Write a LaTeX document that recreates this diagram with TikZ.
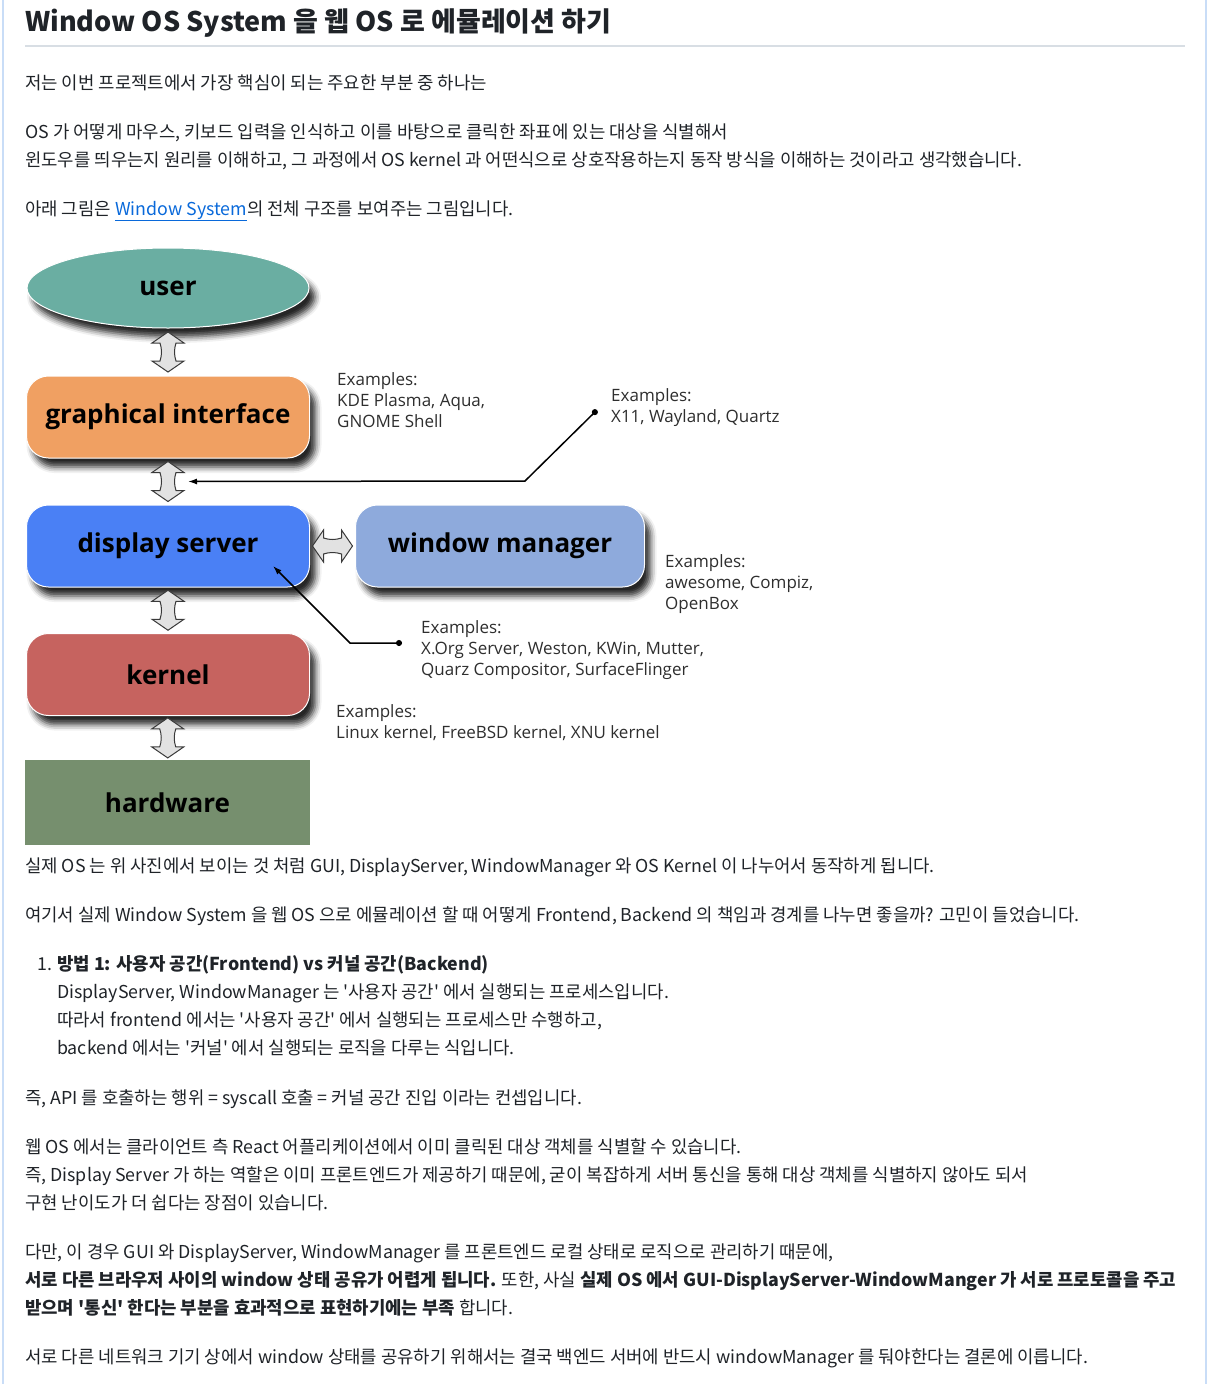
\documentclass[tikz,border=0pt]{standalone}
\usepackage{fontspec}
\newfontfamily\kr{Noto Sans CJK KR}
\newfontfamily\diafont{Open Sans}
\usepackage{tikz}
\usetikzlibrary{positioning, shadows.blur, arrows.meta, calc, shapes.geometric}

\definecolor{bodytext}{HTML}{1F2328}
\definecolor{extext}{HTML}{2E2E2E}
\definecolor{linkblue}{HTML}{0969DA}
\definecolor{pageline}{HTML}{C9DDF7}
\definecolor{rulegray}{HTML}{D8DEE4}
\definecolor{userteal}{HTML}{6AAEA2}
\definecolor{guiorange}{HTML}{F0A062}
\definecolor{dispblue}{HTML}{4A80F5}
\definecolor{wmblue}{HTML}{8EAADC}
\definecolor{kernred}{HTML}{C6635F}
\definecolor{hwgreen}{HTML}{768F6E}
\definecolor{arrowfill}{HTML}{E2E2E2}
\definecolor{arrowline}{HTML}{3A3A3A}

\begin{document}
\begin{tikzpicture}[x=1pt, y=-1pt,
    body/.style={anchor=base west, inner sep=0pt, text=bodytext, font=\kr\fontsize{17.8}{20}\selectfont},
    layer/.style={draw=white, line width=1pt, rounded corners=22pt, minimum width=283pt, minimum height=82pt,
      font=\diafont\bfseries\fontsize{26}{30}\selectfont,
      blur shadow={shadow xshift=6pt, shadow yshift=-9pt, shadow blur radius=6pt, shadow opacity=85}},
    exlabel/.style={anchor=north west, align=left, inner sep=0pt, text=extext, font=\diafont\fontsize{17}{21}\selectfont},
    pointer/.style={line width=1.5pt, {Circle[length=6pt]}-{Latex[length=9pt, width=6pt]}},
    vdarrow/.pic={
      \filldraw[fill=arrowfill, draw=arrowline, line width=1pt]
        (0,-20) -- (16,-9) -- (8,-9) .. controls (6,-3) and (6,3) .. (8,9) -- (16,9) -- (0,20)
        -- (-16,9) -- (-8,9) .. controls (-6,3) and (-6,-3) .. (-8,-9) -- (-16,-9) -- cycle;
    }]
    \useasboundingbox (0,0) rectangle (1208,1384);

    % page frame
    \draw[pageline, line width=1.5pt] (3,0) -- (3,1384);
    \draw[pageline, line width=1.5pt] (1206,0) -- (1206,1384);

    % heading
    \node[body, font=\kr\bfseries\fontsize{27}{32}\selectfont] (title) at (25,31)
      {Window OS System 을 웹 OS 로 에뮬레이션 하기};
    \draw[rulegray, line width=1.2pt] (25,46) -- (1185,46);

    % intro
    \node[body] (p1) at (25,89) {저는 이번 프로젝트에서 가장 핵심이 되는 주요한 부분 중 하나는};
    \node[body] (p2a) at (25,138) {OS 가 어떻게 마우스, 키보드 입력을 인식하고 이를 바탕으로 클릭한 좌표에 있는 대상을 식별해서};
    \node[body] (p2b) at (25,166) {윈도우를 띄우는지 원리를 이해하고, 그 과정에서 OS kernel 과 어떤식으로 상호작용하는지 동작 방식을 이해하는 것이라고 생각했습니다.};
    \node[body] (p3) at (25,215) {아래 그림은 {\color{linkblue}\underline{Window System}}의 전체 구조를 보여주는 그림입니다.};

    % layers
    \node[layer, ellipse, rounded corners=0pt, fill=userteal, minimum width=282pt, minimum height=80pt] (user) at (168,288) {user};
    \node[layer, fill=guiorange] (gui) at (168,417) {graphical interface};
    \node[layer, fill=dispblue] (disp) at (168,546) {display server};
    \node[layer, fill=wmblue, minimum width=289pt] (wm) at (500,546) {window manager};
    \node[layer, fill=kernred] (kern) at (168,674.5) {kernel};
    \node[draw=none, fill=hwgreen, minimum width=285pt, minimum height=85pt, inner sep=0pt,
      font=\diafont\bfseries\fontsize{26}{30}\selectfont] (hw) at (167.5,802.5) {hardware};

    % double arrows
    \pic at ($(user.south)!0.5!(gui.north)$) {vdarrow};
    \coordinate (gdmid) at ($(gui.south)!0.5!(disp.north)$);
    \pic at (gdmid) {vdarrow};
    \pic at ($(disp.south)!0.5!(kern.north)$) {vdarrow};
    \pic at ($(kern.south)!0.5!(hw.north)$) {vdarrow};
    \pic[rotate=90] at ($(disp.east)!0.5!(wm.west)$) {vdarrow};

    % examples
    \node[exlabel] (exgui) at (337,372) {Examples:\\KDE Plasma, Aqua,\\GNOME Shell};
    \node[exlabel] (exproto) at (611,388) {Examples:\\X11, Wayland, Quartz};
    \node[exlabel] (exwm) at (665,554) {Examples:\\awesome, Compiz,\\OpenBox};
    \node[exlabel] (exdisp) at (421,620) {Examples:\\X.Org Server, Weston, KWin, Mutter,\\Quarz Compositor, SurfaceFlinger};
    \node[exlabel] (exkern) at (336,704) {Examples:\\Linux kernel, FreeBSD kernel, XNU kernel};

    % pointers
    \coordinate (protodot) at (597,410);
    \coordinate (protobend) at (525,481);
    \draw[pointer] (protodot) -- (protobend) -- ($(gdmid)+(20,0)$);
    \coordinate (dispdot) at (402,643);
    \coordinate (dispbend) at (350,643);
    \draw[pointer] (dispdot) -- (dispbend) -- ($(disp.center)+(105,20)$);

    % text below the figure
    \node[body] (p4) at (25,872) {실제 OS 는 위 사진에서 보이는 것 처럼 GUI, DisplayServer, WindowManager 와 OS Kernel 이 나누어서 동작하게 됩니다.};
    \node[body] (p5) at (25,921) {여기서 실제 Window System 을 웹 OS 으로 에뮬레이션 할 때 어떻게 Frontend, Backend 의 책임과 경계를 나누면 좋을까? 고민이 들었습니다.};
    \node[body] (li1) at (37,970) {1.};
    \node[body] (li1t) at (57,970) {\bfseries 방법 1: 사용자 공간(Frontend) vs 커널 공간(Backend)};
    \node[body] (li1a) at (57,998) {DisplayServer, WindowManager 는 '사용자 공간' 에서 실행되는 프로세스입니다.};
    \node[body] (li1b) at (57,1026) {따라서 frontend 에서는 '사용자 공간' 에서 실행되는 프로세스만 수행하고,};
    \node[body] (li1c) at (57,1054) {backend 에서는 '커널' 에서 실행되는 로직을 다루는 식입니다.};
    \node[body] (p6) at (25,1104) {즉, API 를 호출하는 행위 = syscall 호출 = 커널 공간 진입 이라는 컨셉입니다.};
    \node[body] (p7a) at (25,1153) {웹 OS 에서는 클라이언트 측 React 어플리케이션에서 이미 클릭된 대상 객체를 식별할 수 있습니다.};
    \node[body] (p7b) at (25,1181) {즉, Display Server 가 하는 역할은 이미 프론트엔드가 제공하기 때문에, 굳이 복잡하게 서버 통신을 통해 대상 객체를 식별하지 않아도 되서};
    \node[body] (p7c) at (25,1209) {구현 난이도가 더 쉽다는 장점이 있습니다.};
    \node[body] (p8a) at (25,1258) {다만, 이 경우 GUI 와 DisplayServer, WindowManager 를 프론트엔드 로컬 상태로 로직으로 관리하기 때문에,};
    \node[body] (p8b) at (25,1286) {{\bfseries 서로 다른 브라우저 사이의 window 상태 공유가 어렵게 됩니다.} 또한, 사실 {\bfseries 실제 OS 에서 GUI-DisplayServer-WindowManger 가 서로 프로토콜을 주고}};
    \node[body] (p8c) at (25,1314) {{\bfseries 받으며 '통신' 한다는 부분을 효과적으로 표현하기에는 부족} 합니다.};
    \node[body] (p9) at (25,1363) {서로 다른 네트워크 기기 상에서 window 상태를 공유하기 위해서는 결국 백엔드 서버에 반드시 windowManager 를 둬야한다는 결론에 이릅니다.};
\end{tikzpicture}
\end{document}
